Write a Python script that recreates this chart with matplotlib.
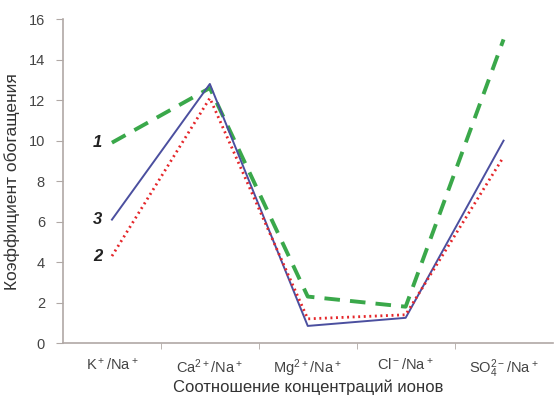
import numpy as np
import matplotlib
matplotlib.use('Agg')
import matplotlib.pyplot as plt

plt.rcParams['font.family'] = ['Liberation Sans', 'DejaVu Sans']
plt.rcParams['mathtext.fontset'] = 'custom'
plt.rcParams['mathtext.rm'] = 'Liberation Sans'
plt.rcParams['mathtext.default'] = 'regular'

ions = [r'K$^+$/Na$^+$', r'Ca$^{2+}$/Na$^+$', r'Mg$^{2+}$/Na$^+$',
        r'Cl$^-$/Na$^+$', r'SO$_4^{2-}$/Na$^+$']
s1 = [9.9, 12.6, 2.3, 1.8, 15.0]
s2 = [4.3, 12.1, 1.2, 1.4, 9.2]
s3 = [6.1, 12.8, 0.85, 1.25, 10.0]

x = np.arange(len(ions))

fig = plt.figure(figsize=(5.55, 3.99), dpi=100)
ax = fig.add_axes([0.1135, 0.14, 0.882, 0.812])

ax.plot(x, s1, color='#3aa84a', lw=2.8, ls=(0, (4, 2.6)))
ax.plot(x, s3, color='#4b4f9f', lw=1.4)
ax.plot(x, s2, color='#e5262a', lw=2.0, ls=(0, (0.7, 1.3)))

for lab, val in [('1', s1[0]), ('3', s3[0]), ('2', s2[0])]:
    ax.text(-0.1, val, lab, ha='right', va='center', fontsize=12,
            fontweight='bold', style='italic', color='#222222')

ax.set_xlim(-0.5, 4.5)
ax.set_ylim(0, 16)
ax.set_yticks(range(0, 17, 2))
ax.set_xticks(x)
ax.set_xticks(np.arange(0.5, 4.5, 1), minor=True)
ax.set_xticklabels(ions)
ax.tick_params(axis='x', which='major', length=0, pad=10)
ax.tick_params(axis='x', which='minor', length=4, color='#b0a8a5')
ax.tick_params(axis='y', length=5, color='#b0a8a5', pad=8)
ax.tick_params(labelsize=10.5, labelcolor='#444444')

for s in ['top', 'right']:
    ax.spines[s].set_visible(False)
for s in ['left', 'bottom']:
    ax.spines[s].set_color('#b0a8a5')
    ax.spines[s].set_linewidth(1.2)

ax.set_xlabel('Соотношение концентраций ионов', fontsize=12, color='#333333', labelpad=0)
ax.set_ylabel('Коэффициент обогащения', fontsize=12.5, color='#333333', labelpad=6)

fig.savefig('out.png', dpi=100)
